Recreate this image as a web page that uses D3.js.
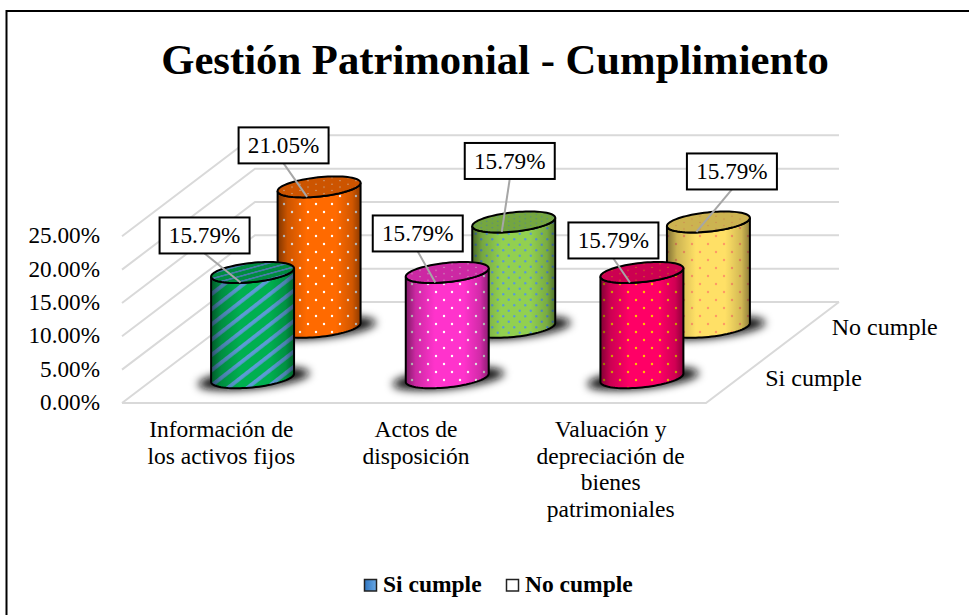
<!DOCTYPE html>
<html>
<head>
<meta charset="utf-8">
<script src="https://cdn.jsdelivr.net/npm/d3@7"></script>
<style>
html, body { margin: 0; padding: 0; background: #fff; }
svg { display: block; }
text { font-family: "Liberation Serif", serif; fill: #000; }
</style>
</head>
<body>
<div id="chart"></div>
<script>
// data
const categories = ["Información de los activos fijos", "Actos de disposición", "Valuación y depreciación de bienes patrimoniales"]
const categoryLines = [["Información de", "los activos fijos"], ["Actos de", "disposición"], ["Valuación y", "depreciación de", "bienes", "patrimoniales"]]
const seriesNames = ["Si cumple", "No cumple"]
const siCumple = [15.79, 15.79, 15.79]
const noCumple = [21.05, 15.79, 15.79]
const yTicks = [0, 5, 10, 15, 20, 25]

// colours per series, per category: base, pattern ink
const siColours = [["#00b050", "#5b9bd5"], ["#ff33cc", "#ffffff"], ["#ff0066", "#ffc000"]]
const noColours = [["#ff6a00", "#ffffff"], ["#92d050", "#5b9bd5"], ["#ffe066", "#ff9966"]]

// data label box centre, relative to top of the cylinder
const siLabelOffset = [[-48, -37], [-29.5, -39], [-28.5, -32]]
const noLabelOffset = [[-35.5, -41.5], [-4, -61], [23.5, -50.5]]

const width = 969, height = 615

//floor corners of the 3D box
const floorX = 122, floorY = 403, floorW = 584, depthX = 133, depthY = 101

let x = d3.scaleBand().domain(categories).range([0, floorW])
let z = d3.scaleBand().domain(seriesNames).range([0, 1])
let y = d3.scaleLinear().domain([0, 25]).range([0, 166.7])

function project(px, depth, value){
    return [floorX + px + depth * depthX, floorY - depth * depthY - y(value)]
}

let svg = d3.select("#chart").append("svg")
    .attr("width", width)
    .attr("height", height)

let defs = svg.append("defs")

defs.append("filter").attr("id", "blur")
    .attr("x", "-30%").attr("y", "-60%").attr("width", "160%").attr("height", "220%")
    .append("feGaussianBlur").attr("stdDeviation", 4.5)

//cylinder shading, dark on both edges
let shade = defs.append("linearGradient").attr("id", "shade")
shade.selectAll("stop")
    .data([[0, .5], [.12, .2], [.35, 0], [.7, 0], [.9, .18], [1, .45]])
    .join("stop")
    .attr("offset", d => d[0])
    .attr("stop-color", "#000")
    .attr("stop-opacity", d => d[1])

let legendFill = defs.append("linearGradient").attr("id", "legendFill")
legendFill.append("stop").attr("offset", 0).attr("stop-color", "#2f75c0")
legendFill.append("stop").attr("offset", 1).attr("stop-color", "#6aa9e6")

//pattern builders
function dotPattern(id, base, ink, size, r, squash){
    let p = defs.append("pattern").attr("id", id)
        .attr("patternUnits", "userSpaceOnUse")
        .attr("width", size).attr("height", size)
        .attr("patternTransform", `scale(1,${squash})`)
    p.append("rect").attr("width", size).attr("height", size).attr("fill", base)
    p.append("circle").attr("cx", size / 4).attr("cy", size / 4).attr("r", r).attr("fill", ink)
    p.append("circle").attr("cx", size * 3 / 4).attr("cy", size * 3 / 4).attr("r", r).attr("fill", ink)
}

function stripePattern(id, base, ink, squash){
    let p = defs.append("pattern").attr("id", id)
        .attr("patternUnits", "userSpaceOnUse")
        .attr("width", 12).attr("height", 12)
        .attr("patternTransform", `scale(1,${squash}) rotate(-38)`)
    p.append("rect").attr("width", 12).attr("height", 12).attr("fill", base)
    p.append("rect").attr("width", 12).attr("height", 3.8).attr("fill", ink)
}

siColours.forEach((c, i) => {
    if(i == 0){
        stripePattern("side-0-0", c[0], c[1], 1)
        stripePattern("top-0-0", c[0], c[1], .35)
    } else {
        dotPattern(`side-0-${i}`, c[0], c[1], 16, 1.2, 1)
        dotPattern(`top-0-${i}`, c[0], c[1], 16, 1, .4)
    }
})
noColours.forEach((c, i) => {
    let size = i == 1 ? 11 : 16
    dotPattern(`side-1-${i}`, c[0], c[1], size, 1.2, 1)
    dotPattern(`top-1-${i}`, c[0], c[1], size, 1, .4)
})

//top and left border only
svg.append("path")
    .attr("d", `M6.5,${height} V11 H${width}`)
    .attr("fill", "none")
    .attr("stroke", "#000")
    .attr("stroke-width", 2)

// GRAPH TITLE
svg.append("text")
    .attr("x", 495)
    .attr("y", 74)
    .attr("text-anchor", "middle")
    .attr("font-size", 42.7)
    .attr("font-weight", "bold")
    .text("Gestión Patrimonial - Cumplimiento")

//walls and floor
let grid = svg.append("g")
    .attr("fill", "none")
    .attr("stroke", "#d9d9d9")
    .attr("stroke-width", 2)

let gridLine = d3.line()

grid.selectAll(".wall")
    .data(yTicks)
    .join("path")
    .attr("class", "wall")
    .attr("d", d => gridLine([project(0, 0, d), project(0, 1, d), project(floorW, 1, d)]))

grid.append("path")
    .attr("d", gridLine([project(0, 0, 0), project(floorW, 0, 0), project(floorW, 1, 0)]))

//y axis
let yAxis = d3.axisLeft(d3.scaleLinear().domain([0, 25]).range([floorY - 1, floorY - 1 - y(25)]))
    .tickValues(yTicks)
    .tickFormat(d => d.toFixed(2) + "%")
    .tickSize(0)
    .tickPadding(0)

let yGroup = svg.append("g")
    .attr("transform", "translate(100,0)")
    .call(yAxis)
yGroup.select(".domain").remove()
yGroup.selectAll("text")
    .attr("font-family", "Liberation Serif")
    .attr("font-size", 23.2)

//category labels
let catLabels = svg.append("g")
    .attr("text-anchor", "middle")
    .attr("font-size", 23.5)
    .selectAll("text")
    .data(categories)
    .join("text")
    .attr("x", d => floorX + x(d) + x.bandwidth() / 2 + 2)
    .attr("y", 437)

catLabels.each(function(d, i){
    d3.select(this).selectAll("tspan")
        .data(categoryLines[i])
        .join("tspan")
        .attr("x", floorX + x(d) + x.bandwidth() / 2 + 2)
        .attr("dy", (l, j) => j == 0 ? 0 : 26.6)
        .text(l => l)
})

//series labels, at the right hand edge of the floor
svg.append("g")
    .attr("font-size", 24)
    .selectAll("text")
    .data(seriesNames)
    .join("text")
    .attr("x", d => project(floorW, z(d) + z.bandwidth() / 2, 0)[0] + 26)
    .attr("y", d => project(floorW, z(d) + z.bandwidth() / 2, 0)[1] + 8)
    .text(d => d)

//cylinders, back row first
const rx = 41.7, ry = 9.6, tilt = -6 * Math.PI / 180

function ellipsePoint(cx, cy, t){
    return [
        cx + rx * Math.cos(t) * Math.cos(tilt) - ry * Math.sin(t) * Math.sin(tilt),
        cy + rx * Math.cos(t) * Math.sin(tilt) + ry * Math.sin(t) * Math.cos(tilt)
    ]
}

let rows = [
    {name: seriesNames[1], s: 1, values: noCumple, offset: noLabelOffset},
    {name: seriesNames[0], s: 0, values: siCumple, offset: siLabelOffset}
]

let marks = []
rows.forEach(row => {
    row.values.forEach((v, i) => {
        let depth = z(row.name) + z.bandwidth() / 2
        let base = project(x(categories[i]) + x.bandwidth() / 2, depth, 0)
        let top = project(x(categories[i]) + x.bandwidth() / 2, depth, v)
        marks.push({s: row.s, i: i, v: v, base: base, top: top, offset: row.offset[i]})
    })
})

let bars = svg.append("g")

let leftT = Math.atan2(-ry * Math.sin(tilt), rx * Math.cos(tilt)) + Math.PI
let lineGen = d3.line()

marks.forEach(m => {
    let g = bars.append("g")

    g.append("ellipse")
        .attr("cx", m.base[0] + 1)
        .attr("cy", m.base[1] + 1)
        .attr("rx", 56)
        .attr("ry", 10)
        .attr("transform", `rotate(-6 ${m.base[0]} ${m.base[1]})`)
        .attr("fill", "#111")
        .attr("filter", "url(#blur)")

    //side: around the lower half of the base, back up over the lower half of the top
    let pts = d3.range(0, 41).map(k => ellipsePoint(m.base[0], m.base[1], leftT - Math.PI * k / 40))
    let topPts = d3.range(0, 41).map(k => ellipsePoint(m.top[0], m.top[1], leftT - Math.PI * (40 - k) / 40))
    let side = lineGen(pts.concat(topPts)) + "Z"

    g.append("path").attr("d", side).attr("fill", `url(#side-${m.s}-${m.i})`)
    g.append("path").attr("d", side).attr("fill", "url(#shade)")
        .attr("stroke", "#000").attr("stroke-width", 2)

    let cap = d3.range(0, 81).map(k => ellipsePoint(m.top[0], m.top[1], Math.PI * 2 * k / 80))
    g.append("path").attr("d", lineGen(cap) + "Z").attr("fill", `url(#top-${m.s}-${m.i})`)
    g.append("path").attr("d", lineGen(cap) + "Z").attr("fill", "#000").attr("fill-opacity", .2)
        .attr("stroke", "#000").attr("stroke-width", 2)
})

//data labels with leader lines
let labels = svg.append("g").selectAll("g")
    .data(marks)
    .join("g")
    .attr("transform", d => `translate(${d.top[0] + d.offset[0]},${d.top[1] + d.offset[1]})`)

labels.append("line")
    .attr("x1", 0)
    .attr("y1", 18)
    .attr("x2", d => -12 - d.offset[0])
    .attr("y2", d => 10 - d.offset[1])
    .attr("stroke", "#a6a6a6")
    .attr("stroke-width", 2)

labels.append("rect")
    .attr("x", -45)
    .attr("y", -18)
    .attr("width", 90)
    .attr("height", 36)
    .attr("fill", "#fff")
    .attr("stroke", "#000")
    .attr("stroke-width", 2)

labels.append("text")
    .attr("text-anchor", "middle")
    .attr("y", 8)
    .attr("font-size", 23.2)
    .text(d => d.v.toFixed(2) + "%")

//legend
let legend = svg.append("g")
    .attr("font-size", 23.5)
    .attr("font-weight", "bold")

legend.append("rect")
    .attr("x", 364.5).attr("y", 579.5).attr("width", 12).attr("height", 11.5)
    .attr("fill", "url(#legendFill)").attr("stroke", "#222").attr("stroke-width", 1.5)
legend.append("text").attr("x", 383).attr("y", 592).text(seriesNames[0])

legend.append("rect")
    .attr("x", 506.5).attr("y", 579.5).attr("width", 12).attr("height", 11.5)
    .attr("fill", "#fff").attr("stroke", "#222").attr("stroke-width", 1.5)
legend.append("text").attr("x", 525).attr("y", 592).text(seriesNames[1])
</script>
</body>
</html>
